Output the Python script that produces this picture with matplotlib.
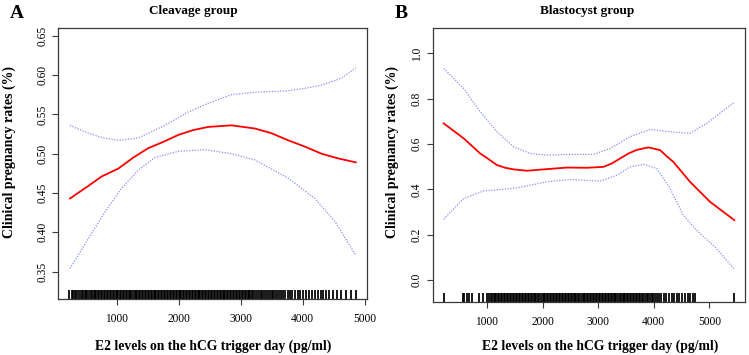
import numpy as np
import matplotlib
matplotlib.use('Agg')
import matplotlib.pyplot as plt
from matplotlib.transforms import blended_transform_factory

plt.rcParams['font.family'] = ['Liberation Serif', 'DejaVu Serif']

# ── Panel A: cleavage group ───────────────────────────────────────────────────
a_x = [248, 544, 758, 1027, 1268, 1510, 1752, 1999, 2235, 2477, 2852, 3228,
       3496, 3765, 4034, 4302, 4570, 4855]
a_fit = [0.443, 0.459, 0.471, 0.481, 0.495, 0.507, 0.515, 0.524, 0.530, 0.534,
         0.536, 0.532, 0.526, 0.517, 0.509, 0.500, 0.494, 0.489]

a_up_x = [248, 544, 785, 1027, 1349, 1564, 1778, 2154, 2477, 2852, 3228, 3496,
          3765, 4034, 4302, 4624, 4855]
a_up = [0.536, 0.526, 0.520, 0.517, 0.520, 0.528, 0.536, 0.553, 0.564, 0.575,
        0.578, 0.579, 0.580, 0.583, 0.587, 0.596, 0.609]

a_lo_x = [248, 544, 812, 1081, 1349, 1617, 1993, 2423, 2852, 3228, 3765, 4195,
          4517, 4855]
a_lo = [0.354, 0.392, 0.426, 0.456, 0.479, 0.495, 0.503, 0.505, 0.500, 0.492,
        0.469, 0.443, 0.414, 0.371]

a_rug = [240, 275, 300, 330, 350, 385, 410, 440, 465, 490, 510, 530,
         555, 580, 600, 628, 650, 672, 700, 722, 745, 770, 795, 818, 840, 866,
         890, 912, 935, 960, 984, 1005, 1030, 1052, 1078, 1100, 1122, 1148,
         1170, 1195, 1218, 1240, 1265, 1290, 1312, 1335, 1360, 1384, 1405,
         1430, 1455, 1478, 1500, 1525, 1548, 1570, 1596, 1620, 1642, 1665,
         1690, 1712, 1738, 1760, 1785, 1808, 1830, 1855, 1880, 1902, 1925,
         1950, 1975, 1998, 2020, 2045, 2070, 2092, 2115, 2140, 2162, 2188,
         2210, 2235, 2258, 2280, 2305, 2330, 2352, 2375, 2400, 2425, 2448,
         2470, 2495, 2520, 2542, 2565, 2590, 2612, 2638, 2660, 2685, 2708,
         2730, 2755, 2780, 2802, 2825, 2850, 2872, 2898, 2920, 2945, 2968,
         2990, 3015, 3040, 3062, 3085, 3110, 3132, 3158, 3180, 3205, 3228,
         3255, 3290, 3320, 3350, 3375, 3410, 3440, 3470, 3500, 3525, 3560,
         3590, 3620, 3650, 3690, 3720, 3760, 3790,
         3830, 3880, 3920, 3960, 4010, 4050, 4100, 4150, 4200, 4240, 4290,
         4330, 4380, 4430, 4490, 4560, 4620, 4700, 4770, 4860]

# ── Panel B: blastocyst group ─────────────────────────────────────────────────
b_x = [222, 581, 880, 1030, 1180, 1330, 1479, 1719, 2078, 2437, 2796, 3096,
       3245, 3395, 3545, 3695, 3904, 4114, 4233, 4353, 4503, 4653, 4832, 5012,
       5449]
b_fit = [0.691, 0.625, 0.558, 0.533, 0.507, 0.495, 0.488, 0.482, 0.489, 0.496,
         0.495, 0.499, 0.514, 0.536, 0.558, 0.574, 0.585, 0.573, 0.546, 0.521,
         0.477, 0.433, 0.389, 0.345, 0.264]

b_up_x = [222, 581, 880, 1180, 1479, 1778, 2078, 2497, 2916, 3216, 3575, 3934,
          4293, 4653, 4952, 5449]
b_up = [0.934, 0.845, 0.742, 0.654, 0.588, 0.558, 0.551, 0.554, 0.554, 0.580,
        0.632, 0.664, 0.654, 0.647, 0.691, 0.784]

b_lo_x = [222, 581, 940, 1479, 1778, 2078, 2497, 3036, 3335, 3575, 3814, 4054,
          4293, 4533, 4772, 5132, 5449]
b_lo = [0.268, 0.359, 0.393, 0.404, 0.418, 0.433, 0.443, 0.436, 0.462, 0.499,
        0.510, 0.492, 0.404, 0.286, 0.219, 0.138, 0.047]

b_rug = [225, 570, 595, 640, 680, 735, 860, 930,
         1010, 1040, 1065, 1090, 1120, 1145, 1170, 1200, 1225, 1250, 1280,
         1305, 1330, 1360, 1385, 1410, 1440, 1465, 1490, 1520, 1545, 1570,
         1600, 1625, 1650, 1680, 1705, 1730, 1760, 1785, 1810, 1840, 1865,
         1890, 1920, 1945, 1970, 2000, 2025, 2050, 2080, 2105, 2130, 2160,
         2185, 2210, 2240, 2265, 2290, 2320, 2345, 2370, 2400, 2425, 2450,
         2480, 2505, 2530, 2560, 2585, 2610, 2640, 2665, 2690, 2720, 2745,
         2770, 2800, 2825, 2850, 2880, 2905, 2930, 2960, 2985, 3010, 3040,
         3065, 3090, 3120, 3145, 3170, 3200, 3225, 3250, 3280, 3305, 3330,
         3360, 3385, 3410, 3440, 3465, 3490, 3520, 3545, 3570, 3600, 3625,
         3650, 3680, 3705, 3730, 3760, 3785, 3810, 3840, 3870, 3900, 3930,
         3960, 3990, 4020, 4050,
         4090, 4130, 4180, 4220, 4270, 4320, 4360, 4410, 4450, 4500, 4560,
         4610, 4660, 4700, 4740, 5442]

A_YTICKS = [0.35, 0.40, 0.45, 0.50, 0.55, 0.60, 0.65]
B_YTICKS = [0.0, 0.2, 0.4, 0.6, 0.8, 1.0]
XTICKS = [1000, 2000, 3000, 4000, 5000]

RED = '#ff0000'
CI_C = '#8c8cff'
SPINE_C = '#3a3a3a'


def panel(ax, x, fit, upx, up, lox, lo, rug, yticks, ylabels, xlim, ylim):
    ax.plot(x, fit, color=RED, lw=1.3, zorder=3)
    ax.plot(upx, up, color=CI_C, lw=0.9, ls=(0, (1, 1.2)), zorder=2)
    ax.plot(lox, lo, color=CI_C, lw=0.9, ls=(0, (1, 1.2)), zorder=2)
    trans = blended_transform_factory(ax.transData, ax.transAxes)
    ax.vlines(rug, 0, 0.034, transform=trans, color='black', lw=1.4,
              alpha=0.9, zorder=1)
    ax.set_xlim(*xlim)
    ax.set_ylim(*ylim)
    ax.set_xticks(XTICKS)
    ax.set_xticklabels([str(t) for t in XTICKS], fontsize=8.3)
    ax.set_yticks(yticks)
    ax.set_yticklabels(ylabels, fontsize=8.3, rotation=90, va='center')
    ax.tick_params(length=4, width=0.8, color=SPINE_C, pad=3)
    ax.tick_params(axis='x', pad=6)
    for s in ax.spines.values():
        s.set_color(SPINE_C)
        s.set_linewidth(0.9)


fig = plt.figure(figsize=(7.49, 3.55), dpi=100, facecolor='white')
ax1 = fig.add_axes([0.0778, 0.1577, 0.4117, 0.7625])
ax2 = fig.add_axes([0.5777, 0.1493, 0.4176, 0.771])

panel(ax1, a_x, a_fit, a_up_x, a_up, a_lo_x, a_lo, a_rug,
      A_YTICKS, ['%.2f' % t for t in A_YTICKS], (60, 5030), (0.3153, 0.6593))
panel(ax2, b_x, b_fit, b_up_x, b_up, b_lo_x, b_lo, b_rug,
      B_YTICKS, ['%.1f' % t for t in B_YTICKS], (25, 5650), (-0.0972, 1.1105))

for xc in (9, 392):
    fig.text(xc / 749, 1 - 152 / 355, 'Clinical pregnancy rates (%)',
             rotation=90, ha='center', va='center', fontsize=10,
             fontweight='bold')

for xc in (213, 600):
    fig.text(xc / 749, 1 - 346 / 355, 'E2 levels on the hCG trigger day (pg/ml)',
             ha='center', va='center', fontsize=9.8, fontweight='bold')

fig.text(193 / 749, 1 - 11 / 355, 'Cleavage group', ha='center', va='center',
         fontsize=9.5, fontweight='bold')
fig.text(587 / 749, 1 - 11 / 355, 'Blastocyst group', ha='center', va='center',
         fontsize=9.5, fontweight='bold')
fig.text(17 / 749, 1 - 13 / 355, 'A', ha='center', va='center',
         fontsize=14, fontweight='bold')
fig.text(401 / 749, 1 - 13 / 355, 'B', ha='center', va='center',
         fontsize=14, fontweight='bold')

fig.savefig('out.png', dpi=100, facecolor='white')
